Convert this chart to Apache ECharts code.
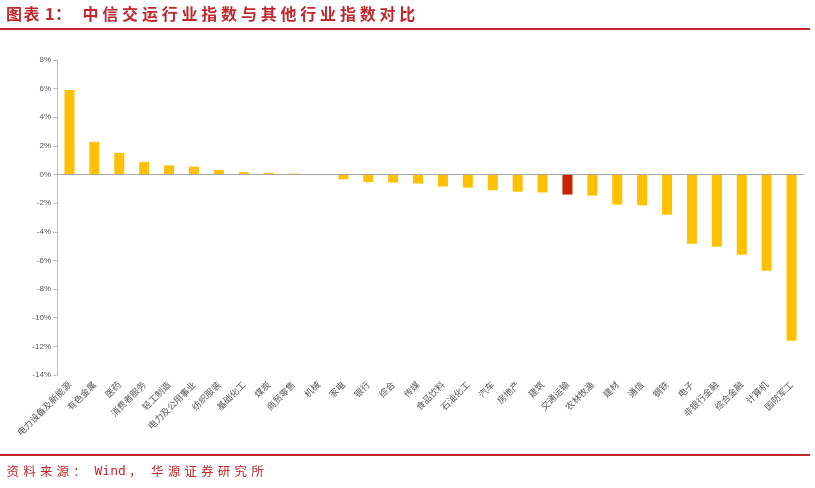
<!DOCTYPE html>
<html><head><meta charset="utf-8">
<script src="https://cdn.jsdelivr.net/npm/echarts@6/dist/echarts.min.js"></script>
<style>html,body{margin:0;padding:0;background:#fff;}#c{width:815px;height:488px;}</style>
</head><body><div id="c"></div>
<script>
const categories = ['电力设备及新能源','有色金属','医药','消费者服务','轻工制造','电力及公用事业','纺织服装','基础化工','煤炭','商贸零售','机械','家电','银行','综合','传媒','食品饮料','石油化工','汽车','房地产','建筑','交通运输','农林牧渔','建材','通信','钢铁','电子','非银行金融','综合金融','计算机','国防军工'];
const values = [5.9,2.28,1.52,0.87,0.64,0.55,0.31,0.17,0.12,0.07,-0.02,-0.33,-0.52,-0.56,-0.63,-0.84,-0.91,-1.1,-1.2,-1.25,-1.4,-1.47,-2.1,-2.15,-2.8,-4.83,-5.04,-5.6,-6.72,-11.6];
const highlight = '交通运输';
const yTicks = {min:-14, max:8, interval:2};
// title / footer text pieces (text, left x, char pitch)
const titleParts = [['图表',6,17.5],['1',45,9],['：',55,16],['中信交运行业指数与其他行业指数对比',82.5,19.8]];
const footerParts = [['资料来源：',6.5,16.7],['，',129,16.7],['华源证券研究所',151,16.7]];
const footerLatin = 'Wind';

const RED = '#C0282D';
function parts(list, yMid, font){
  const out=[];
  list.forEach(([s,x0,p])=>{
    let x=x0;
    for(const ch of s){
      out.push({type:'text', left:x, top:yMid-9, style:{text:ch, font:font, fill:RED}, silent:true});
      x+=p;
    }
  });
  return out;
}
const graphics = [].concat(
  parts(titleParts, 14.5, 'bold 16px "Noto Sans CJK SC"'),
  parts(footerParts, 474, '12.5px "Noto Sans CJK SC"'),
  [
    {type:'text', left:94.5, top:474-9, style:{text:footerLatin, font:'13px "DejaVu Sans Mono"', fill:RED}, silent:true},
    {type:'rect', shape:{x:0,y:28,width:810,height:2}, style:{fill:RED}, silent:true},
    {type:'rect', shape:{x:0,y:454,width:810,height:2}, style:{fill:RED}, silent:true}
  ]
);

const chart = echarts.init(document.getElementById('c'), null, {renderer:'canvas'});
chart.setOption({
  animation:false,
  grid:{left:57, right:11, top:60, bottom:113},
  xAxis:{type:'category', data:categories,
    axisLine:{show:false}, axisTick:{show:false},
    axisLabel:{interval:0, rotate:45, fontSize:9, color:'#595959', margin:8, fontFamily:'"Noto Sans CJK SC"'}},
  yAxis:{type:'value', min:yTicks.min, max:yTicks.max, interval:yTicks.interval,
    axisLine:{show:true, lineStyle:{color:'#BFBFBF'}},
    axisTick:{show:true, length:4, lineStyle:{color:'#BFBFBF'}},
    splitLine:{show:false},
    axisLabel:{formatter:'{value}%', fontSize:8, color:'#595959', margin:6, fontFamily:'Arial, "Liberation Sans"'}},
  series:[{type:'bar', barWidth:10,
    data: values.map((v,i)=>({value:v, itemStyle:{color: categories[i]===highlight ? '#CC2200' : '#FFC000'}})),
    markLine:{silent:true, symbol:'none', label:{show:false}, lineStyle:{color:'#A6A6A6', width:1, type:'solid'}, data:[{yAxis:0}]}
  }],
  graphic: graphics
});
</script></body></html>
